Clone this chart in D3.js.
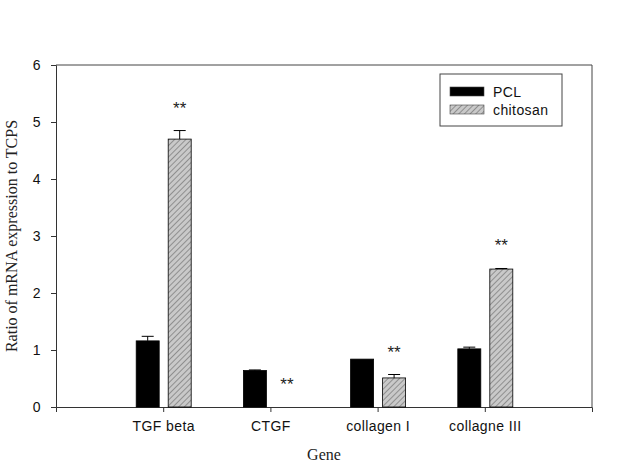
<!DOCTYPE html>
<html>
<head>
<meta charset="utf-8">
<script src="https://cdn.jsdelivr.net/npm/d3@7"></script>
<style>
  body { margin: 0; background: #fff; }
  svg { display: block; }
  .tick text { font-family: "Liberation Sans", Arial, sans-serif; font-size: 14px; fill: #111; letter-spacing: 0.4px; }
</style>
</head>
<body>
<svg id="chart" width="618" height="464"></svg>
<script>
var genes = ["TGF beta", "CTGF", "collagen I", "collagne III"];
var pclValues = [1.16, 0.64, 0.84, 1.02];
var pclErrors = [0.08, 0.01, 0, 0.03];
var chitosanValues = [4.70, 0, 0.51, 2.42];
var chitosanErrors = [0.15, 0, 0.06, 0.01];
var yTicks = [0, 1, 2, 3, 4, 5, 6];

var margin = {top: 65, right: 26, bottom: 57, left: 56};
var width = 618 - margin.left - margin.right;
var height = 464 - margin.top - margin.bottom;

var svg = d3.select("#chart")
  .append("g")
    .attr("transform", "translate(" + margin.left + "," + margin.top + ")");

var defs = d3.select("#chart").append("defs");
var pat = defs.append("pattern")
    .attr("id", "hatch")
    .attr("patternUnits", "userSpaceOnUse")
    .attr("width", 4)
    .attr("height", 4)
    .attr("patternTransform", "rotate(45)");
pat.append("rect").attr("width", 4).attr("height", 4).attr("fill", "#c9c9c9");
pat.append("line")
    .attr("x1", 0).attr("y1", 0).attr("x2", 0).attr("y2", 4)
    .attr("stroke", "#555").attr("stroke-width", 1);

var x = d3.scaleLinear().domain([0, genes.length + 1]).range([0, width]);
var y = d3.scaleLinear().domain([0, 6]).range([height, 0]);

var barW = 23;
var series = [
  {name: "PCL", values: pclValues, errors: pclErrors, fill: "#000", off: -27},
  {name: "chitosan", values: chitosanValues, errors: chitosanErrors, fill: "url(#hatch)", off: 5}
];

// axes
var yAxis = svg.append("g")
  .call(d3.axisLeft(y).tickValues(yTicks).tickSize(5).tickPadding(10).tickFormat(d3.format("d")));
yAxis.select(".domain").attr("stroke", "#333");
yAxis.selectAll(".tick line").attr("stroke", "#333");

var xAxis = svg.append("g")
  .attr("transform", "translate(0," + height + ")")
  .call(d3.axisBottom(x).tickValues(d3.range(1, genes.length + 1)).tickSize(5).tickPadding(9)
    .tickFormat(function(d) { return genes[d - 1]; }));
xAxis.select(".domain").attr("stroke", "#333");
xAxis.selectAll(".tick line").attr("stroke", "#333");

// frame top/right
svg.append("path")
  .attr("d", "M0,0H" + width + "V" + height)
  .attr("fill", "none")
  .attr("stroke", "#444");

// bars
series.forEach(function(s) {
  var rows = s.values.map(function(v, i) { return {i: i, v: v, e: s.errors[i]}; });
  var g = svg.append("g");
  g.selectAll("rect")
    .data(rows.filter(function(r) { return r.v > 0; }))
    .enter().append("rect")
      .attr("x", function(r) { return x(r.i + 1) + s.off; })
      .attr("y", function(r) { return y(r.v); })
      .attr("width", barW)
      .attr("height", function(r) { return height - y(r.v); })
      .attr("fill", s.fill)
      .attr("stroke", "#000")
      .attr("stroke-width", 0.8);
  g.selectAll("path.err")
    .data(rows.filter(function(r) { return r.e > 0; }))
    .enter().append("path")
      .attr("class", "err")
      .attr("d", function(r) {
        var cx = x(r.i + 1) + s.off + barW / 2;
        var yt = y(r.v + r.e);
        return "M" + cx + "," + y(r.v) + "V" + yt + "M" + (cx - 6) + "," + yt + "H" + (cx + 6);
      })
      .attr("stroke", "#000")
      .attr("stroke-width", 1)
      .attr("fill", "none");
});

// significance stars over chitosan
svg.append("g").selectAll("text")
  .data(chitosanValues)
  .enter().append("text")
    .attr("x", function(d, i) { return x(i + 1) + 5 + barW / 2; })
    .attr("y", function(d, i) { return y(d + chitosanErrors[i]) - 17; })
    .attr("text-anchor", "middle")
    .attr("font-family", "Liberation Sans, Arial, sans-serif")
    .attr("font-size", 17)
    .attr("fill", "#222")
    .text("**");

// axis titles
d3.select("#chart").append("text")
  .attr("transform", "translate(17," + (margin.top + height / 2) + ") rotate(-90)")
  .attr("text-anchor", "middle")
  .attr("font-family", "Liberation Serif, Times New Roman, serif")
  .attr("font-size", 16)
  .attr("fill", "#222")
  .text("Ratio of mRNA expression to TCPS");

d3.select("#chart").append("text")
  .attr("x", margin.left + width / 2)
  .attr("y", 460)
  .attr("text-anchor", "middle")
  .attr("font-family", "Liberation Serif, Times New Roman, serif")
  .attr("font-size", 16)
  .attr("fill", "#222")
  .text("Gene");

// legend
var legend = svg.append("g").attr("transform", "translate(" + (440 - margin.left) + "," + (74 - margin.top) + ")");
legend.append("rect")
  .attr("width", 122).attr("height", 52)
  .attr("fill", "#fff").attr("stroke", "#444");
legend.selectAll("g.item")
  .data(series)
  .enter().append("g")
    .attr("class", "item")
    .attr("transform", function(d, i) { return "translate(10," + (13 + i * 18) + ")"; })
    .each(function(d) {
      var it = d3.select(this);
      it.append("rect").attr("width", 34).attr("height", 9)
        .attr("fill", d.fill).attr("stroke", "#444").attr("stroke-width", 0.6);
      it.append("text").attr("x", 43).attr("y", 5).attr("dy", "0.35em")
        .attr("font-family", "Liberation Sans, Arial, sans-serif")
        .attr("font-size", 14).attr("letter-spacing", 0.4).attr("fill", "#111")
        .text(d.name);
    });
</script>
</body>
</html>
